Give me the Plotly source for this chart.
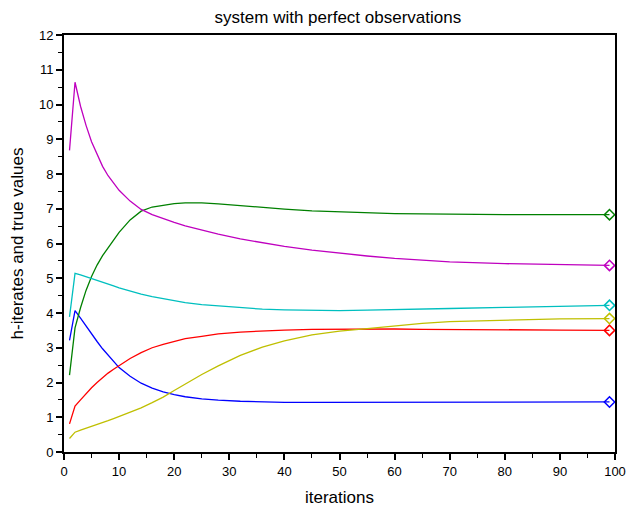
import plotly.graph_objects as go

iterations = [1, 2, 3, 4, 5, 6, 7, 8, 9, 10, 12, 14, 16, 18, 20, 22, 25, 28, 32, 36,
              40, 45, 50, 55, 60, 65, 70, 80, 90, 99]

h_blue = [3.21, 4.07, 3.85, 3.62, 3.40, 3.18, 2.97, 2.78, 2.60, 2.43, 2.18, 1.98, 1.84, 1.73,
          1.65, 1.59, 1.53, 1.49, 1.46, 1.44, 1.43, 1.43, 1.43, 1.43, 1.43, 1.43, 1.43, 1.43,
          1.44, 1.44]
h_green = [2.21, 3.57, 4.15, 4.65, 5.05, 5.38, 5.65, 5.88, 6.10, 6.32, 6.68, 6.93, 7.05, 7.11,
           7.15, 7.17, 7.17, 7.14, 7.09, 7.03, 6.99, 6.94, 6.91, 6.88, 6.86, 6.85, 6.84, 6.83,
           6.83, 6.83]
h_red = [0.81, 1.32, 1.50, 1.68, 1.85, 2.00, 2.14, 2.27, 2.38, 2.49, 2.69, 2.86, 3.00, 3.10,
         3.19, 3.26, 3.33, 3.40, 3.45, 3.49, 3.51, 3.53, 3.54, 3.54, 3.54, 3.53, 3.53, 3.52,
         3.51, 3.50]
h_cyan = [3.89, 5.14, 5.10, 5.05, 5.00, 4.95, 4.90, 4.84, 4.78, 4.72, 4.62, 4.54, 4.47, 4.41,
          4.35, 4.30, 4.24, 4.20, 4.15, 4.11, 4.09, 4.07, 4.07, 4.08, 4.09, 4.11, 4.13, 4.16,
          4.19, 4.22]
h_magenta = [8.68, 10.64, 9.95, 9.40, 8.93, 8.55, 8.22, 7.95, 7.73, 7.53, 7.22, 6.98, 6.83,
             6.71, 6.61, 6.51, 6.38, 6.27, 6.13, 6.02, 5.92, 5.81, 5.72, 5.64, 5.57, 5.51,
             5.47, 5.42, 5.39, 5.37]
h_yellow = [0.39, 0.57, 0.63, 0.68, 0.73, 0.79, 0.84, 0.90, 0.96, 1.02, 1.13, 1.27, 1.42, 1.58,
            1.77, 1.96, 2.23, 2.48, 2.78, 3.02, 3.20, 3.37, 3.48, 3.55, 3.63, 3.70, 3.75, 3.80,
            3.83, 3.84]

true_x = 99
true_values = {"blue": 1.44, "green": 6.83, "red": 3.50, "cyan": 4.22, "magenta": 5.37, "yellow": 3.84}

series = [
    ("blue", h_blue, "#0000ff"),
    ("green", h_green, "#008000"),
    ("red", h_red, "#ff0000"),
    ("cyan", h_cyan, "#00bfbf"),
    ("magenta", h_magenta, "#bf00bf"),
    ("yellow", h_yellow, "#bfbf00"),
]

FONT = "Liberation Sans, Arial, sans-serif"

fig = go.Figure()
for name, vals, col in series:
    fig.add_trace(go.Scatter(x=iterations, y=vals, mode="lines",
                             line=dict(color=col, width=1.3), name=name))
for name, vals, col in series:
    fig.add_trace(go.Scatter(x=[true_x], y=[true_values[name]], mode="markers",
                             marker=dict(symbol="diamond-open", size=8, color=col,
                                         line=dict(color=col, width=1.5)),
                             name=name + " true", cliponaxis=False))

axis_common = dict(
    showgrid=False, zeroline=False, showline=True, linecolor="black", linewidth=2,
    mirror=True, ticks="outside", ticklen=6, tickwidth=1.5, tickcolor="black",
    automargin=False,
    tickfont=dict(family=FONT, size=13, color="black"),
)

# page body has an 8px default margin, so the figure is sized to fit the window
fig.update_layout(
    width=626, height=501,
    margin=dict(l=56, r=19, t=27, b=57),
    paper_bgcolor="white", plot_bgcolor="white",
    showlegend=False,
    title=dict(text="system with perfect observations", x=0.527, xanchor="center",
               y=0.982, yanchor="middle", yref="container",
               font=dict(family=FONT, size=17, color="black")),
    xaxis=dict(range=[0, 100], dtick=10, tick0=0,
               minor=dict(ticks="outside", dtick=5, ticklen=4, tickwidth=1.2, tickcolor="black"),
               title=dict(text="iterations", standoff=14,
                          font=dict(family=FONT, size=17, color="black")),
               **axis_common),
    yaxis=dict(range=[0, 12], dtick=1, tick0=0,
               minor=dict(ticks="outside", dtick=0.5, ticklen=4, tickwidth=1.2, tickcolor="black"),
               title=dict(text="h-iterates and true values", standoff=12,
                          font=dict(family=FONT, size=17, color="black")),
               **axis_common),
)

fig.write_html("out.html")
